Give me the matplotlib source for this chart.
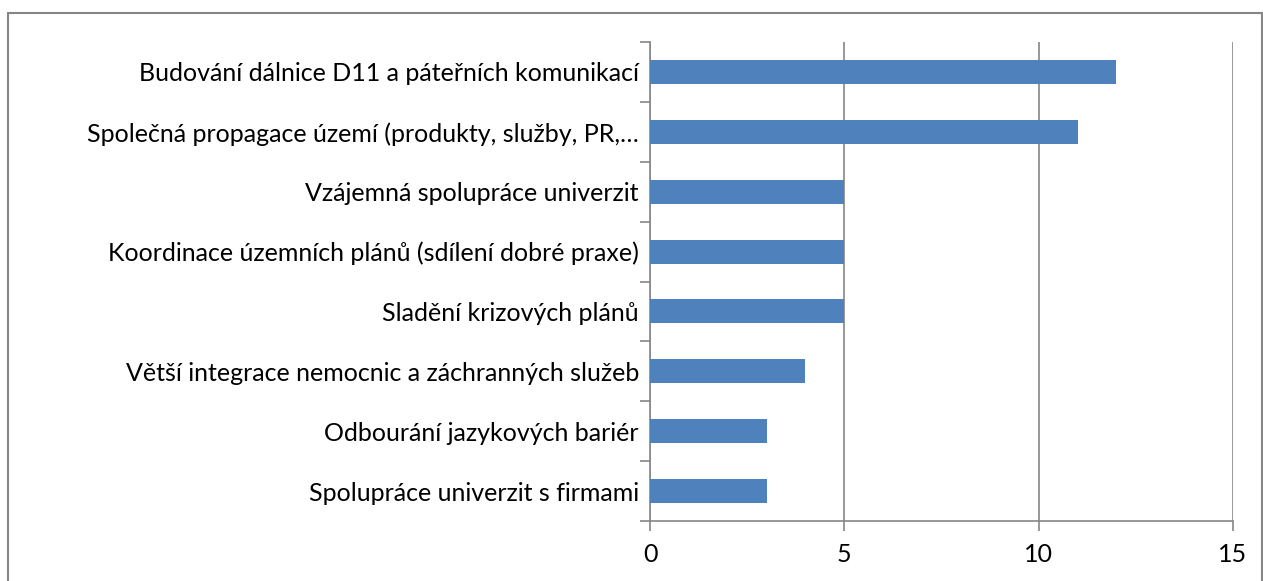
import matplotlib.pyplot as plt
import numpy as np
from matplotlib.patches import Rectangle

plt.rcParams['font.family'] = ['Lato', 'DejaVu Sans']

# kategorie shora dolů
categories = [
    "Budování dálnice D11 a páteřních komunikací",
    "Společná propagace území (produkty, služby, PR,…",
    "Vzájemná spolupráce univerzit",
    "Koordinace územních plánů (sdílení dobré praxe)",
    "Sladění krizových plánů",
    "Větší integrace nemocnic a záchranných služeb",
    "Odbourání jazykových bariér",
    "Spolupráce univerzit s firmami",
]
values = [12, 11, 5, 5, 5, 4, 3, 3]
x_ticks = [0, 5, 10, 15]

bar_color = '#4F81BD'
grey = '#868686'

fig = plt.figure(figsize=(12.63, 5.81), dpi=100)
ax = fig.add_axes([650 / 1263, 1 - 521 / 581, 583 / 1263, 479 / 581])

n = len(categories)
y = np.arange(n)[::-1]
ax.barh(y, values, height=0.4, color=bar_color, zorder=3)

ax.set_xlim(0, 15)
ax.set_ylim(-0.5, n - 0.5)
ax.set_xticks(x_ticks)
ax.set_yticks(y)
ax.set_yticklabels(categories)
ax.set_yticks(np.arange(n + 1) - 0.5, minor=True)

ax.grid(axis='x', color=grey, linewidth=1.2, zorder=0)
ax.tick_params(axis='y', which='major', length=0, pad=8, labelsize=18)
ax.tick_params(axis='y', which='minor', length=7, color=grey, width=1.2)
ax.tick_params(axis='x', length=7, color=grey, width=1.2, labelsize=18, pad=9)

for side in ['top', 'right']:
    ax.spines[side].set_visible(False)
for side in ['left', 'bottom']:
    ax.spines[side].set_color(grey)
    ax.spines[side].set_linewidth(1.2)

# rámeček kolem grafu
fig.patches.append(Rectangle((8 / 1263, -0.05), 1254 / 1263, 1.05 - 13 / 581,
                             transform=fig.transFigure, fill=False,
                             edgecolor=grey, linewidth=1.5))

fig.savefig('out.png', dpi=100)
